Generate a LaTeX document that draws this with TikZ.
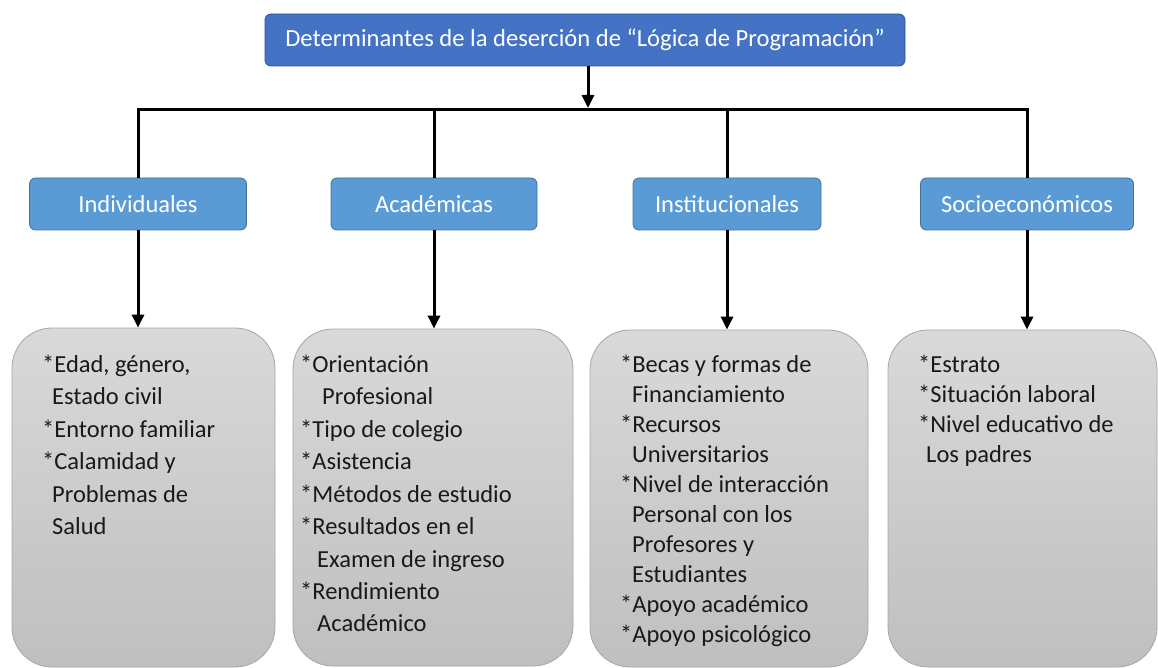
\documentclass[tikz,border=0pt]{standalone}
\usepackage{fontspec}
\setmainfont{Carlito}
\usetikzlibrary{arrows.meta}
\definecolor{titleblue}{HTML}{4472C4}
\definecolor{titleedge}{HTML}{2F528F}
\definecolor{catblue}{HTML}{5B9BD5}
\definecolor{catedge}{HTML}{41719C}
\definecolor{greytop}{HTML}{D9D9D9}
\definecolor{greybot}{HTML}{BFBFBF}
\definecolor{greyedge}{HTML}{A6A6A6}
\tikzset{
  titlebox/.style={draw=titleedge, line width=0.8pt, fill=titleblue, rounded corners=6pt,
    minimum width=640pt, minimum height=52pt, inner sep=0pt, text=white,
    font=\fontsize{24.6}{28}\selectfont},
  catbox/.style={draw=catedge, line width=0.8pt, fill=catblue, rounded corners=6pt,
    minimum height=52pt, inner sep=0pt, text=white, font=\fontsize{24.5}{28}\selectfont},
  greybox/.style={draw=greyedge, line width=0.8pt, top color=greytop, bottom color=greybot,
    rounded corners=40pt, inner sep=0pt},
  listtext/.style={anchor=north west, inner sep=0pt, align=left, text=black!90},
  conn/.style={line width=3pt, black},
  arr/.style={conn, -{Triangle[length=13pt,width=12pt]}},
}
\begin{document}
\begin{tikzpicture}[x=1pt,y=-1pt]
\useasboundingbox (0,0) rectangle (1158,668);
% title
\node[titlebox] (title) at (585,40) {Determinantes de la deserción de “Lógica de Programación”};
% categories
\node[catbox, minimum width=217pt] (c1) at (138,204) {Individuales};
\node[catbox, minimum width=206pt] (c2) at (434,204) {Académicas};
\node[catbox, minimum width=188pt] (c3) at (727,204) {Institucionales};
\node[catbox, minimum width=213pt] (c4) at (1027,204) {Socioeconómicos};
% bus
\coordinate (busL) at (138,110);
\coordinate (busR) at (1027,110);
\draw[conn, line cap=rect] (busL) -- (busR);
\draw[arr] (title.south -| 588,0) -- (588,108);
\foreach \c in {c1,c2,c3,c4} { \draw[conn] (\c.north |- busL) -- (\c.north); }
% grey boxes
\node[greybox, minimum width=263pt, minimum height=339pt] (g1) at (143.5,497.5) {};
\node[greybox, minimum width=280pt, minimum height=337pt] (g2) at (433,497.5) {};
\node[greybox, minimum width=278pt, minimum height=337pt] (g3) at (729,498.5) {};
\node[greybox, minimum width=269pt, minimum height=337pt] (g4) at (1022.5,498.5) {};
% arrows
\draw[arr] (c1.south) -- (c1.south |- g1.north);
\draw[arr] (c2.south) -- (c2.south |- g2.north);
\draw[arr] (c3.south) -- (c3.south |- g3.north);
\draw[arr] (c4.south) -- (c4.south |- g4.north);
% texts
\node[listtext, font=\fontsize{24.5}{32.4}\selectfont] (t1) at (42,355) {*Edad, género,\\\hspace*{10pt}Estado civil\\*Entorno familiar\\*Calamidad y\\\hspace*{10pt}Problemas de\\\hspace*{10pt}Salud};
\node[listtext, font=\fontsize{24.5}{32.4}\selectfont] (t2) at (300,355) {*Orientación\\\hspace*{22pt}Profesional\\*Tipo de colegio\\*Asistencia\\*Métodos de estudio\\*Resultados en el\\\hspace*{17pt}Examen de ingreso\\*Rendimiento\\\hspace*{17pt}Académico};
\node[listtext, font=\fontsize{24.5}{30}\selectfont] (t3) at (620,355) {*Becas y formas de\\\hspace*{12pt}Financiamiento\\*Recursos\\\hspace*{12pt}Universitarios\\*Nivel de interacción\\\hspace*{12pt}Personal con los\\\hspace*{12pt}Profesores y\\\hspace*{12pt}Estudiantes\\*Apoyo académico\\*Apoyo psicológico};
\node[listtext, font=\fontsize{24.5}{30}\selectfont] (t4) at (918,355) {*Estrato\\*Situación laboral\\*Nivel educativo de\\\hspace*{8pt}Los padres};
\end{tikzpicture}
\end{document}
